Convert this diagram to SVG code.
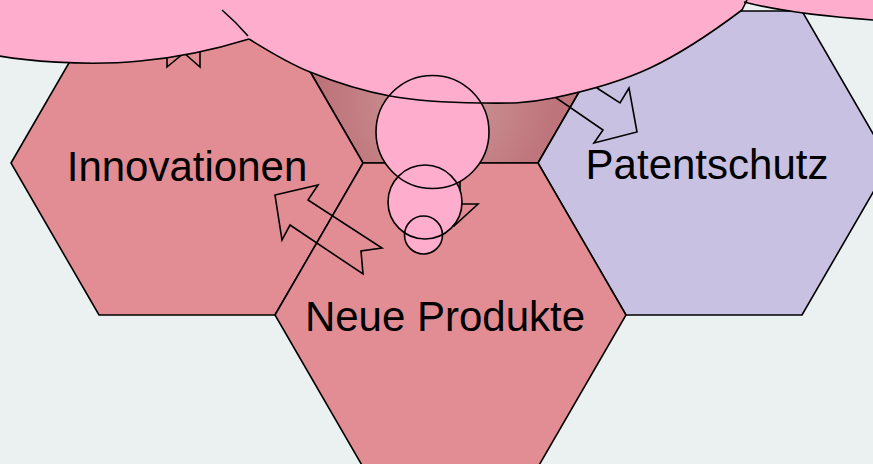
<svg xmlns="http://www.w3.org/2000/svg" width="873" height="464" viewBox="0 0 873 464">
<defs>
<radialGradient id="gc" gradientUnits="userSpaceOnUse" cx="440" cy="100" r="115">
<stop offset="0" stop-color="#CE9A9A"/>
<stop offset="1" stop-color="#BE747B"/>
</radialGradient>
<style>
.hex{stroke:#000;stroke-width:1.6;stroke-linejoin:miter}
.pink{fill:#E18D93}
.lav{fill:#C8C1E2}
.lbl{font-family:"Liberation Sans",Arial,sans-serif;font-size:42px;fill:#000;text-anchor:middle}
.arr{fill:none;stroke:#000;stroke-width:1.6;stroke-linejoin:miter}
.cf{fill:#FFADCC;stroke:none}
.cs{fill:none;stroke:#000;stroke-width:1.6}
</style>
</defs>
<rect width="873" height="464" fill="#EBF1F1"/>
<g id="hex-center">
<polygon class="hex" fill="url(#gc)" points="275,11 363,163 538,163 626,11 538,-141 363,-141"/>
</g>
<g id="hex-innovationen">
<polygon class="hex pink" points="11,163 99,11 275,11 363,163 275,315 99,315"/>
<text class="lbl" x="187" y="181">Innovationen</text>
</g>
<g id="hex-patentschutz">
<polygon class="hex lav" points="538,163 626,11 802,11 890,163 802,315 626,315"/>
<text class="lbl" x="707" y="179">Patentschutz</text>
</g>
<g id="hex-neue-produkte">
<polygon class="hex pink" points="275,315 363,163 538,163 626,315 538,467 363,467"/>
<text class="lbl" x="445" y="331">Neue Produkte</text>
</g>
<g id="connectors">
<polygon class="arr" points="167,67 184,53 200,67 200,20 212,20 184,-5 156,20 167,20"/>
<polygon class="arr" points="540,48 600,90 620,103 629,88 637,132 594,143 603,130 520,73 535,68"/>
<polygon class="arr" points="275,195 318,185 308,200 382,248 361,251 363,274 290,225 282,240"/>
<polygon class="arr" points="460,170 460,204 478,204 454,226 430,210"/>
</g>
<g id="cloud">
<path class="cf" d="M-20,-20 L-20,52 C20,62 90,66 140,61 C185,57 220,48 249,39 C267.3,50.2 286.5,62.5 310,72 C333.5,81.5 361.7,90.8 390,96 C418.3,101.2 452.8,102.7 480,103 C507.2,103.3 524.7,103.8 553,98 C581.3,92.2 618.5,82.7 650,68 C681.5,53.3 720.3,26.3 742,10 L746,2 Q790,14 873,20 L890,21 L890,-20 Z"/>
<circle class="cf" cx="432.5" cy="132" r="56.5"/>
<circle class="cf" cx="425" cy="202" r="37"/>
<circle class="cf" cx="423.5" cy="235" r="19"/>
<path class="cs" d="M-20,52 C20,62 90,66 140,61 C185,57 220,48 249,39"/>
<path class="cs" d="M222,10 Q236,22 248,36"/>
<path class="cs" d="M249,39 C267.3,50.2 286.5,62.5 310,72 C333.5,81.5 361.7,90.8 390,96 C418.3,101.2 452.8,102.7 480,103 C507.2,103.3 524.7,103.8 553,98 C581.3,92.2 618.5,82.7 650,68 C681.5,53.3 720.3,26.3 742,10 L747,0"/>
<path class="cs" d="M744,2 Q790,14 873,20 L890,21"/>
<circle class="cs" cx="432.5" cy="132" r="56.5"/>
<circle class="cs" cx="425" cy="202" r="37"/>
<circle class="cs" cx="423.5" cy="235" r="19"/>
</g>
</svg>
